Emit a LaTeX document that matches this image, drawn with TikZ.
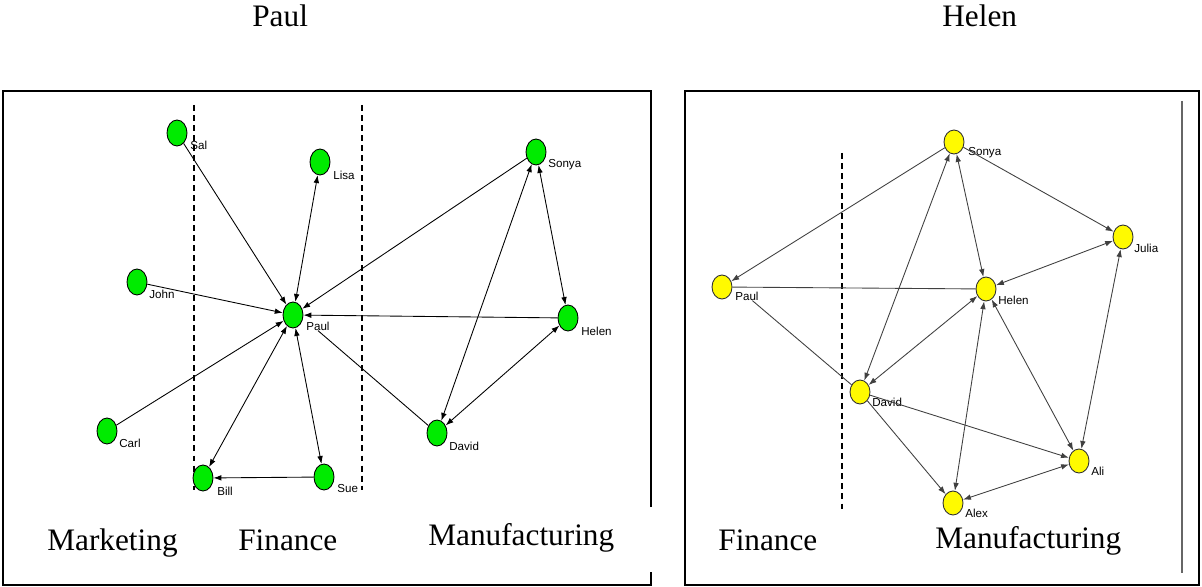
\documentclass[tikz,border=0pt]{standalone}
\usepackage{fontspec}
\setmainfont{Liberation Serif}
\setsansfont{Liberation Sans}
\usetikzlibrary{arrows.meta,shapes.geometric}

\definecolor{nodegreen}{RGB}{0,235,0}
\definecolor{nodeyellow}{RGB}{255,250,0}

\tikzset{
  person/.style={ellipse, draw, line width=0.5pt, minimum width=0.4cm, minimum height=0.52cm, inner sep=0pt},
  gperson/.style={person, fill=nodegreen},
  yperson/.style={person, fill=nodeyellow, draw=black!80, minimum height=0.48cm},
  who/.style={anchor=west, inner sep=0pt, font=\sffamily\fontsize{6.6}{8}\selectfont},
  dept/.style={anchor=base west, inner sep=0pt, font=\fontsize{17.8}{20}\selectfont},
  tie/.style={line width=0.5pt},
  rtie/.style={line width=0.5pt, black!75},
  divider/.style={line width=0.7pt, dash pattern=on 3.4pt off 2.3pt},
  frame/.style={line width=0.8pt}
}

\begin{document}
\begin{tikzpicture}[x=0.02cm, y=-0.02cm, >={Latex[length=4.5pt,width=3.2pt]}]
\useasboundingbox (0,0) rectangle (1202,587);

% titles
\node[dept] (t-left) at (252,27) {Paul};
\node[dept] (t-right) at (942,27) {Helen};

% frames
\draw[frame] (651,507) -- (651,91) -- (3,91) -- (3,585) -- (651,585) -- (651,572);
\draw[frame] (685,91) rectangle (1199,585);
\draw[line width=0.7pt, black!60] (1182,101) -- (1182,573);

% department borders
\draw[divider] (194,105) -- (194,490);
\draw[divider] (362,105) -- (362,490);
\draw[divider] (842,153) -- (842,513);

%%% left network
\node[gperson] (l-sal) at (177,133) {};
\node[gperson] (l-lisa) at (320,162) {};
\node[gperson] (l-john) at (137,282) {};
\node[gperson] (l-paul) at (293,315) {};
\node[gperson] (l-sonya) at (536,152) {};
\node[gperson] (l-helen) at (568,318) {};
\node[gperson] (l-carl) at (107,431) {};
\node[gperson] (l-bill) at (203,478) {};
\node[gperson] (l-sue) at (324,477) {};
\node[gperson] (l-david) at (437,433) {};

\node[who] (l-sal-t) at (190,145) {Sal};
\node[who] (l-lisa-t) at (333,175) {Lisa};
\node[who] (l-john-t) at (149,294) {John};
\node[who] (l-paul-t) at (306,326) {Paul};
\node[who] (l-sonya-t) at (548,165) {Sonya};
\node[who] (l-helen-t) at (581,331) {Helen};
\node[who] (l-carl-t) at (119,443) {Carl};
\node[who] (l-bill-t) at (217,491) {Bill};
\node[who] (l-sue-t) at (337,489) {Sue};
\node[who] (l-david-t) at (449,446) {David};

\draw[tie,->] (l-sal) -- (l-paul);
\draw[tie,<->] (l-paul) -- (l-lisa);
\draw[tie,->] (l-john) -- (l-paul);
\draw[tie,->] (l-sonya) -- (l-paul);
\draw[tie,->] (l-helen) -- (l-paul);
\draw[tie,->] (l-carl) -- (l-paul);
\draw[tie,<->] (l-paul) -- (l-bill);
\draw[tie,<->] (l-paul) -- (l-sue);
\draw[tie,->] (l-sue) -- (l-bill);
\draw[tie] (l-david) -- (l-paul-t.south);
\draw[tie,<->] (l-sonya) -- (l-david);
\draw[tie,<->] (l-sonya) -- (l-helen);
\draw[tie,<->] (l-helen) -- (l-david);

\node[dept] (l-mkt) at (47,550) {Marketing};
\node[dept] (l-fin) at (238,550) {Finance};
\node[dept] (l-man) at (428,545) {Manufacturing};

%%% right network
\node[yperson] (r-sonya) at (954,142) {};
\node[yperson] (r-julia) at (1123,237) {};
\node[yperson] (r-helen) at (986,289) {};
\node[yperson] (r-paul) at (722,287) {};
\node[yperson] (r-david) at (860,392) {};
\node[yperson] (r-ali) at (1079,461) {};
\node[yperson] (r-alex) at (953,503) {};

\node[who] (r-sonya-t) at (968,153) {Sonya};
\node[who] (r-julia-t) at (1134,248) {Julia};
\node[who] (r-helen-t) at (998,300) {Helen};
\node[who] (r-paul-t) at (735,296) {Paul};
\node[who] (r-david-t) at (872,402) {David};
\node[who] (r-ali-t) at (1091,471) {Ali};
\node[who] (r-alex-t) at (965,513) {Alex};

\draw[rtie,->] (r-sonya) -- (r-paul);
\draw[rtie] (r-helen) -- (r-paul);
\draw[rtie] (r-paul-t) -- (r-david);
\draw[rtie,->] (r-sonya) -- (r-julia);
\draw[rtie,<->] (r-sonya) -- (r-helen);
\draw[rtie,<->] (r-sonya) -- (r-david);
\draw[rtie,<->] (r-julia) -- (r-helen);
\draw[rtie,<->] (r-helen) -- (r-david);
\draw[rtie,<->] (r-helen) -- (r-alex);
\draw[rtie,<->] (r-helen) -- (r-ali);
\draw[rtie,<->] (r-julia) -- (r-ali);
\draw[rtie,->] (r-david) -- (r-ali);
\draw[rtie,->] (r-david) -- (r-alex);
\draw[rtie,<->] (r-ali) -- (r-alex);

\node[dept] (r-fin) at (718,550) {Finance};
\node[dept] (r-man) at (935,548) {Manufacturing};
\end{tikzpicture}
\end{document}
